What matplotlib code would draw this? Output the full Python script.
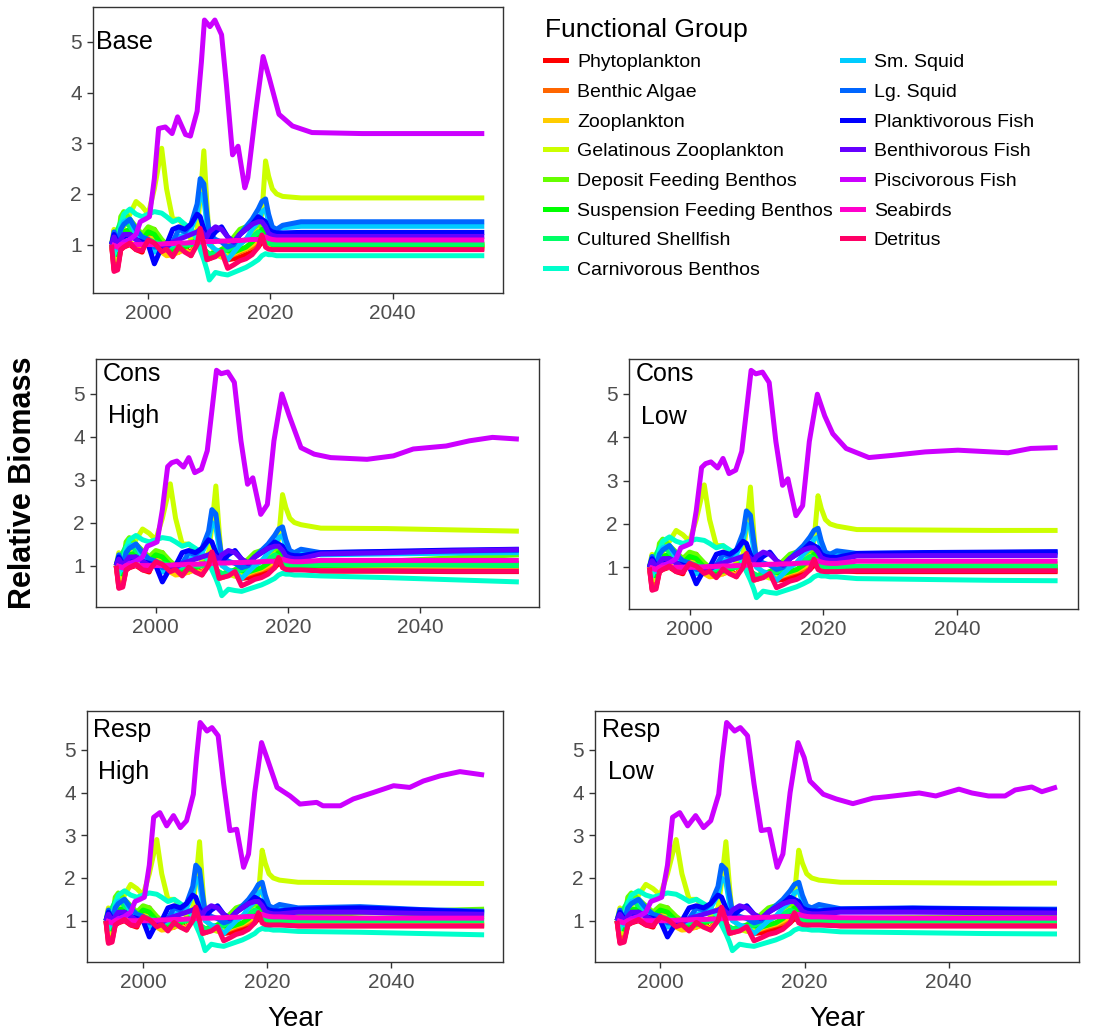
import matplotlib
matplotlib.use("Agg")
import matplotlib.pyplot as plt
from matplotlib.lines import Line2D

plt.rcParams["font.family"] = ["Liberation Sans", "DejaVu Sans"]

# -----------------------
# Groups and colours (rainbow palette, 15 steps)
# -----------------------
groups = [
    "Phytoplankton", "Benthic Algae", "Zooplankton", "Gelatinous Zooplankton",
    "Deposit Feeding Benthos", "Suspension Feeding Benthos", "Cultured Shellfish",
    "Carnivorous Benthos", "Sm. Squid", "Lg. Squid", "Planktivorous Fish",
    "Benthivorous Fish", "Piscivorous Fish", "Seabirds", "Detritus",
]
colors = [
    "#FF0000", "#FF6600", "#FFCC00", "#CCFF00", "#66FF00", "#00FF00", "#00FF66",
    "#00FFCC", "#00CCFF", "#0066FF", "#0000FF", "#6600FF", "#CC00FF", "#FF00CC",
    "#FF0066",
]

# -----------------------
# Hindcast 1994-2022 (shared by all scenarios)
# -----------------------
hind_years = [1994, 1994.4, 1995, 1995.5, 1996, 1997, 1998, 1999, 2000, 2001,
              2002.2, 2003, 2004, 2005, 2006, 2007, 2008, 2008.5, 2009.1, 2009.6,
              2010, 2011, 2012, 2013, 2014, 2015, 2016, 2017, 2018, 2018.6,
              2019.2, 2019.7, 2020.3, 2021, 2022]

phytoplankton = [1.0, 0.5, 0.55, 0.9, 0.95, 1.0, 0.9, 0.85, 1.25, 1.3, 0.95, 0.85,
                 0.9, 0.85, 0.95, 0.8, 1.15, 1.3, 0.85, 0.75, 0.72, 0.78, 0.85, 0.7,
                 0.72, 0.75, 0.8, 0.85, 0.95, 1.05, 1.0, 0.95, 0.93, 0.92, 0.92]
benthic_algae = [1.0, 0.6, 0.65, 0.9, 1.0, 1.05, 0.95, 0.9, 1.15, 1.2, 0.9, 0.8,
                 0.85, 0.88, 0.9, 0.78, 1.1, 1.2, 0.8, 0.72, 0.75, 0.8, 0.82, 0.75,
                 0.8, 0.85, 0.9, 0.95, 1.05, 1.1, 1.05, 1.0, 0.98, 0.97, 0.97]
zooplankton = [1.0, 0.7, 0.75, 0.95, 1.0, 1.05, 0.95, 0.92, 1.1, 1.15, 0.85, 0.78,
               0.8, 0.85, 0.9, 0.8, 1.05, 1.15, 0.78, 0.7, 0.72, 0.78, 0.8, 0.75,
               0.82, 0.88, 0.92, 1.0, 1.1, 1.15, 1.05, 0.98, 0.96, 0.95, 0.95]
gelatinous = [1.0, 1.3, 0.7, 1.1, 1.35, 1.6, 1.85, 1.75, 1.6, 2.1, 2.9, 2.1,
              1.5, 1.5, 1.35, 1.1, 1.3, 1.9, 2.85, 1.8, 1.1, 0.8, 0.75, 0.78,
              0.9, 1.0, 1.1, 1.2, 1.35, 1.6, 2.65, 2.35, 2.1, 2.0, 1.95]
deposit_feeding = [1.0, 1.2, 1.0, 1.55, 1.65, 1.5, 1.35, 1.2, 1.35, 1.3, 1.1, 1.0,
                   0.95, 0.9, 1.0, 1.05, 1.1, 1.05, 0.9, 0.82, 0.8, 0.82, 0.9, 1.0,
                   1.15, 1.3, 1.35, 1.3, 1.4, 1.35, 1.2, 1.05, 1.02, 1.0, 1.0]
suspension_feeding = [1.0, 0.85, 0.8, 1.1, 1.25, 1.3, 1.2, 1.1, 1.25, 1.2, 1.0, 0.92,
                      0.88, 0.92, 0.95, 1.0, 1.1, 1.05, 0.9, 0.85, 0.8, 0.85, 0.9, 0.88,
                      0.85, 0.9, 0.95, 1.05, 1.2, 1.3, 1.15, 1.05, 1.0, 0.99, 0.99]
cultured_shellfish = [1.0, 1.1, 1.3, 1.45, 1.5, 1.35, 1.2, 1.15, 1.1, 1.05, 1.0, 0.95,
                      0.95, 1.0, 1.0, 1.0, 1.05, 1.0, 0.9, 0.85, 0.82, 0.8, 0.85, 0.9,
                      0.95, 1.05, 1.1, 1.15, 1.25, 1.2, 1.1, 1.03, 1.01, 1.01, 1.01]
carnivorous_benthos = [1.0, 0.8, 1.1, 1.4, 1.6, 1.7, 1.6, 1.55, 1.6, 1.65, 1.62, 1.55,
                       1.45, 1.5, 1.4, 1.3, 1.1, 0.9, 0.7, 0.5, 0.3, 0.45, 0.42, 0.4,
                       0.45, 0.5, 0.55, 0.62, 0.7, 0.78, 0.82, 0.8, 0.8, 0.78, 0.78]
sm_squid = [1.0, 1.15, 0.9, 1.3, 1.45, 1.5, 1.2, 1.05, 1.0, 0.85, 0.9, 0.95,
            1.0, 1.15, 1.2, 1.3, 1.6, 2.0, 1.9, 1.4, 1.0, 0.9, 0.85, 0.7,
            0.85, 1.0, 1.1, 1.3, 1.45, 1.65, 1.7, 1.45, 1.3, 1.3, 1.33]
lg_squid = [1.0, 1.25, 1.0, 1.3, 1.4, 1.5, 1.3, 1.15, 1.1, 0.95, 0.95, 1.0,
            1.05, 1.3, 1.25, 1.4, 1.8, 2.3, 2.2, 1.6, 1.2, 1.1, 1.05, 0.95,
            1.0, 1.2, 1.35, 1.5, 1.7, 1.85, 1.9, 1.6, 1.35, 1.3, 1.38]
planktivorous = [1.0, 1.2, 1.05, 1.0, 1.15, 1.2, 1.1, 1.05, 1.0, 0.62, 0.95, 1.0,
                 1.3, 1.35, 1.3, 1.4, 1.6, 1.55, 1.3, 1.15, 1.1, 1.25, 1.35, 1.15,
                 1.05, 1.2, 1.3, 1.4, 1.55, 1.5, 1.45, 1.3, 1.25, 1.23, 1.23]
benthivorous = [1.0, 1.15, 1.0, 1.1, 1.2, 1.2, 1.1, 1.0, 1.05, 1.0, 1.0, 0.95,
                1.05, 1.1, 1.15, 1.2, 1.25, 1.3, 1.2, 1.15, 1.25, 1.35, 1.3, 1.15,
                1.05, 1.2, 1.3, 1.4, 1.45, 1.45, 1.35, 1.22, 1.18, 1.16, 1.16]
seabirds = [1.0, 0.98, 0.95, 1.0, 1.0, 1.0, 1.0, 1.0, 1.0, 1.0, 1.01, 1.02,
            1.02, 1.03, 1.03, 1.04, 1.04, 1.05, 1.05, 1.06, 1.06, 1.06, 1.07, 1.07,
            1.08, 1.08, 1.09, 1.1, 1.1, 1.12, 1.15, 1.12, 1.1, 1.09, 1.09]
detritus = [1.0, 0.47, 0.5, 0.9, 0.95, 1.03, 0.9, 0.88, 1.09, 1.03, 0.86, 0.91,
            0.76, 0.96, 0.85, 0.78, 1.0, 1.32, 1.0, 0.7, 0.72, 0.76, 0.86, 0.53,
            0.6, 0.68, 0.72, 0.8, 0.95, 1.19, 0.95, 0.91, 0.9, 0.9, 0.9]

hindcast = {
    "Phytoplankton": phytoplankton, "Benthic Algae": benthic_algae,
    "Zooplankton": zooplankton, "Gelatinous Zooplankton": gelatinous,
    "Deposit Feeding Benthos": deposit_feeding,
    "Suspension Feeding Benthos": suspension_feeding,
    "Cultured Shellfish": cultured_shellfish,
    "Carnivorous Benthos": carnivorous_benthos, "Sm. Squid": sm_squid,
    "Lg. Squid": lg_squid, "Planktivorous Fish": planktivorous,
    "Benthivorous Fish": benthivorous, "Seabirds": seabirds, "Detritus": detritus,
}

# -----------------------
# Projections 2025-2055 per scenario
# -----------------------
proj_years = [2025, 2035, 2045, 2055]

proj_base = {
    "Phytoplankton": [0.92, 0.92, 0.92, 0.92], "Benthic Algae": [0.97, 0.97, 0.97, 0.97],
    "Zooplankton": [0.95, 0.95, 0.95, 0.95], "Gelatinous Zooplankton": [1.92, 1.92, 1.92, 1.92],
    "Deposit Feeding Benthos": [1.0, 1.0, 1.0, 1.0], "Suspension Feeding Benthos": [0.99, 0.99, 0.99, 0.99],
    "Cultured Shellfish": [1.01, 1.01, 1.01, 1.01], "Carnivorous Benthos": [0.78, 0.78, 0.78, 0.78],
    "Sm. Squid": [1.36, 1.36, 1.36, 1.36], "Lg. Squid": [1.45, 1.45, 1.45, 1.45],
    "Planktivorous Fish": [1.24, 1.24, 1.24, 1.24], "Benthivorous Fish": [1.16, 1.16, 1.16, 1.16],
    "Seabirds": [1.09, 1.09, 1.09, 1.09], "Detritus": [0.90, 0.90, 0.90, 0.90],
}
proj_cons_high = {
    "Phytoplankton": [0.87, 0.87, 0.86, 0.86], "Benthic Algae": [0.95, 0.95, 0.94, 0.93],
    "Zooplankton": [0.93, 0.93, 0.92, 0.92], "Gelatinous Zooplankton": [1.87, 1.86, 1.83, 1.80],
    "Deposit Feeding Benthos": [1.05, 1.1, 1.18, 1.25], "Suspension Feeding Benthos": [1.0, 1.02, 1.04, 1.05],
    "Cultured Shellfish": [1.02, 1.02, 1.01, 1.0], "Carnivorous Benthos": [0.76, 0.72, 0.67, 0.62],
    "Sm. Squid": [1.25, 1.27, 1.29, 1.30], "Lg. Squid": [1.3, 1.32, 1.34, 1.35],
    "Planktivorous Fish": [1.3, 1.33, 1.36, 1.38], "Benthivorous Fish": [1.27, 1.3, 1.34, 1.37],
    "Seabirds": [1.12, 1.12, 1.12, 1.12], "Detritus": [0.88, 0.88, 0.87, 0.87],
}
proj_cons_low = {
    "Phytoplankton": [0.9, 0.9, 0.9, 0.9], "Benthic Algae": [0.96, 0.96, 0.96, 0.96],
    "Zooplankton": [0.94, 0.94, 0.94, 0.94], "Gelatinous Zooplankton": [1.87, 1.86, 1.85, 1.85],
    "Deposit Feeding Benthos": [1.02, 1.04, 1.06, 1.08], "Suspension Feeding Benthos": [1.0, 1.0, 1.0, 1.0],
    "Cultured Shellfish": [1.02, 1.02, 1.02, 1.02], "Carnivorous Benthos": [0.74, 0.72, 0.70, 0.69],
    "Sm. Squid": [1.28, 1.29, 1.3, 1.3], "Lg. Squid": [1.32, 1.33, 1.34, 1.35],
    "Planktivorous Fish": [1.32, 1.34, 1.35, 1.36], "Benthivorous Fish": [1.26, 1.27, 1.27, 1.27],
    "Seabirds": [1.14, 1.14, 1.14, 1.14], "Detritus": [0.92, 0.92, 0.92, 0.92],
}
proj_resp_high = {
    "Phytoplankton": [0.88, 0.88, 0.88, 0.88], "Benthic Algae": [0.93, 0.93, 0.93, 0.93],
    "Zooplankton": [0.91, 0.91, 0.91, 0.91], "Gelatinous Zooplankton": [1.90, 1.89, 1.88, 1.87],
    "Deposit Feeding Benthos": [1.1, 1.18, 1.23, 1.27], "Suspension Feeding Benthos": [1.02, 1.05, 1.08, 1.1],
    "Cultured Shellfish": [1.0, 1.0, 1.0, 1.0], "Carnivorous Benthos": [0.75, 0.73, 0.70, 0.67],
    "Sm. Squid": [1.25, 1.28, 1.22, 1.18], "Lg. Squid": [1.3, 1.33, 1.26, 1.22],
    "Planktivorous Fish": [1.27, 1.3, 1.25, 1.2], "Benthivorous Fish": [1.2, 1.2, 1.17, 1.15],
    "Seabirds": [1.07, 1.06, 1.06, 1.06], "Detritus": [0.88, 0.88, 0.88, 0.88],
}
proj_resp_low = {
    "Phytoplankton": [0.88, 0.88, 0.88, 0.88], "Benthic Algae": [0.94, 0.94, 0.94, 0.94],
    "Zooplankton": [0.92, 0.92, 0.92, 0.92], "Gelatinous Zooplankton": [1.90, 1.89, 1.88, 1.88],
    "Deposit Feeding Benthos": [1.05, 1.07, 1.08, 1.1], "Suspension Feeding Benthos": [1.0, 1.0, 1.0, 1.0],
    "Cultured Shellfish": [1.0, 1.0, 1.0, 1.0], "Carnivorous Benthos": [0.74, 0.72, 0.70, 0.69],
    "Sm. Squid": [1.25, 1.26, 1.25, 1.24], "Lg. Squid": [1.28, 1.3, 1.28, 1.27],
    "Planktivorous Fish": [1.27, 1.29, 1.27, 1.25], "Benthivorous Fish": [1.2, 1.2, 1.19, 1.18],
    "Seabirds": [1.07, 1.06, 1.06, 1.06], "Detritus": [0.88, 0.88, 0.88, 0.88],
}

# -----------------------
# Piscivorous fish (hindcast differs between model families)
# -----------------------
pisc_base_yr = [1994, 1995, 1996, 1997, 1998, 1998.7, 1999.5, 2000.2, 2001, 2001.7,
                2002.8, 2003.9, 2004.8, 2006.1, 2006.9, 2008, 2008.7, 2009.2, 2010.1,
                2010.9, 2012, 2012.8, 2013.8, 2014.7, 2015.8, 2016.3, 2017.6, 2018.8,
                2019.8, 2021.4, 2023.6, 2026.8, 2035, 2055]
pisc_base = [1.0, 0.95, 1.05, 1.1, 1.2, 1.45, 1.5, 1.55, 2.3, 3.29,
             3.32, 3.19, 3.52, 3.17, 3.14, 3.63, 4.6, 5.43, 5.30,
             5.43, 5.14, 4.15, 2.77, 2.94, 2.12, 2.32, 3.63, 4.71,
             4.29, 3.57, 3.34, 3.21, 3.19, 3.19]

pisc_cons_yr = [1994, 1995, 1996, 1997, 1998, 1998.7, 1999.5, 2000.2, 2001, 2001.8,
                2002.4, 2003.2, 2004.2, 2005, 2005.9, 2006.9, 2007.8, 2008.5, 2009.2,
                2009.9, 2010.9, 2011.9, 2012.9, 2013.9, 2014.7, 2015.9, 2016.9, 2017.9,
                2019.1, 2020.2]
pisc_cons = [1.0, 0.95, 1.05, 1.1, 1.2, 1.45, 1.5, 1.55, 2.3, 3.3,
             3.39, 3.43, 3.29, 3.51, 3.16, 3.24, 3.67, 4.6, 5.54,
             5.46, 5.50, 5.26, 3.90, 2.89, 3.04, 2.19, 2.42, 3.90,
             4.99, 4.49]
pisc_cons_high_yr = [2022, 2024, 2026.5, 2032, 2036, 2039, 2044, 2047.5, 2051, 2055]
pisc_cons_high = [3.74, 3.59, 3.51, 3.47, 3.55, 3.71, 3.78, 3.90, 3.98, 3.94]
pisc_cons_low_yr = [2021.4, 2023.4, 2026.8, 2030.3, 2035.2, 2040.1, 2047.6, 2051, 2055]
pisc_cons_low = [4.08, 3.74, 3.53, 3.58, 3.66, 3.70, 3.64, 3.74, 3.76]

pisc_resp_yr = [1994, 1995, 1996, 1997, 1998, 1998.7, 1999.5, 2000.2, 2001, 2001.7,
                2002.7, 2003.8, 2004.9, 2006, 2007, 2008.1, 2008.6, 2009.2, 2010.3,
                2011.1, 2012.1, 2013, 2014, 2015.1, 2016.2, 2017, 2018, 2019.1, 2019.95]
pisc_resp = [1.0, 0.95, 1.05, 1.1, 1.2, 1.45, 1.5, 1.55, 2.3, 3.42,
             3.53, 3.22, 3.46, 3.18, 3.34, 3.96, 4.8, 5.64, 5.44,
             5.52, 5.33, 4.2, 3.11, 3.14, 2.25, 2.56, 4.0, 5.17, 4.82]
pisc_resp_high_yr = [2021.6, 2023.7, 2025.3, 2028, 2029, 2031.8, 2033.9, 2037.1, 2040.4,
                     2043, 2045.2, 2047.9, 2051.1, 2055]
pisc_resp_high = [4.12, 3.92, 3.73, 3.77, 3.69, 3.69, 3.85, 4.0, 4.16,
                  4.12, 4.27, 4.39, 4.49, 4.41]
pisc_resp_low_yr = [2020.75, 2022.6, 2024.4, 2026.7, 2029.5, 2031.3, 2035.9, 2038.2, 2041.4,
                    2043.2, 2045.5, 2047.8, 2049.2, 2051.5, 2052.9, 2055]
pisc_resp_low = [4.27, 3.96, 3.85, 3.74, 3.87, 3.90, 3.99, 3.92, 4.08,
                 3.99, 3.92, 3.92, 4.06, 4.13, 4.02, 4.13]

# panel: (label line 1, label line 2, projections, pisc years, pisc values, axes rect)
panels = [
    ("Base", "", proj_base, pisc_base_yr, pisc_base,
     [0.0845, 0.7166, 0.3727, 0.2766]),
    ("Cons", "High", proj_cons_high, pisc_cons_yr + pisc_cons_high_yr,
     pisc_cons + pisc_cons_high, [0.0873, 0.4130, 0.4027, 0.2398]),
    ("Cons", "Low", proj_cons_low, pisc_cons_yr + pisc_cons_low_yr,
     pisc_cons + pisc_cons_low, [0.5718, 0.4110, 0.4082, 0.2418]),
    ("Resp", "High", proj_resp_high, pisc_resp_yr + pisc_resp_high_yr,
     pisc_resp + pisc_resp_high, [0.0791, 0.0696, 0.3782, 0.2427]),
    ("Resp", "Low", proj_resp_low, pisc_resp_yr + pisc_resp_low_yr,
     pisc_resp + pisc_resp_low, [0.5409, 0.0696, 0.4400, 0.2427]),
]

LW = 3.6

fig = plt.figure(figsize=(11, 10.34), dpi=100)

for i, (lab1, lab2, proj, p_yr, p_val, rect) in enumerate(panels):
    ax = fig.add_axes(rect)
    for k, (g, c) in enumerate(zip(groups, colors)):
        if g == "Piscivorous Fish":
            x, y = p_yr, p_val
        else:
            x = hind_years + proj_years
            y = hindcast[g] + proj[g]
        ax.plot(x, y, color=c, lw=LW, solid_joinstyle="round",
                solid_capstyle="butt", zorder=2 + k)
    ax.margins(x=0.05, y=0.05)
    ax.set_xticks([2000, 2020, 2040])
    ax.set_yticks([1, 2, 3, 4, 5])
    ax.tick_params(colors="#333333", labelcolor="#4D4D4D", labelsize=15,
                   length=4.5, width=1)
    for s in ax.spines.values():
        s.set_color("#333333")
        s.set_linewidth(1)

    if lab2:
        ax.text(1991.9, 5.46, lab1, fontsize=18, va="center", ha="left", zorder=30)
        ax.text(1992.7, 4.47, lab2, fontsize=18, va="center", ha="left", zorder=30)
    else:
        ax.text(1991.5, 5.0, lab1, fontsize=18, va="center", ha="left", zorder=30)

    if i >= 3:
        ax.set_xlabel("Year", fontsize=20, labelpad=10)

fig.text(0.021, 0.533, "Relative Biomass", rotation=90, fontsize=22,
         fontweight="bold", ha="center", va="center")

handles = [Line2D([0], [0], color=c, lw=LW) for c in colors]
fig.legend(handles, groups, ncol=2, loc="upper left",
           bbox_to_anchor=(0.4955, 0.983), frameon=False, fontsize=14,
           title="Functional Group", title_fontsize=19, alignment="left",
           handlelength=1.1, handletextpad=0.55, labelspacing=0.62,
           columnspacing=0.45, borderpad=0, borderaxespad=0)

fig.savefig("out.png", dpi=100)
